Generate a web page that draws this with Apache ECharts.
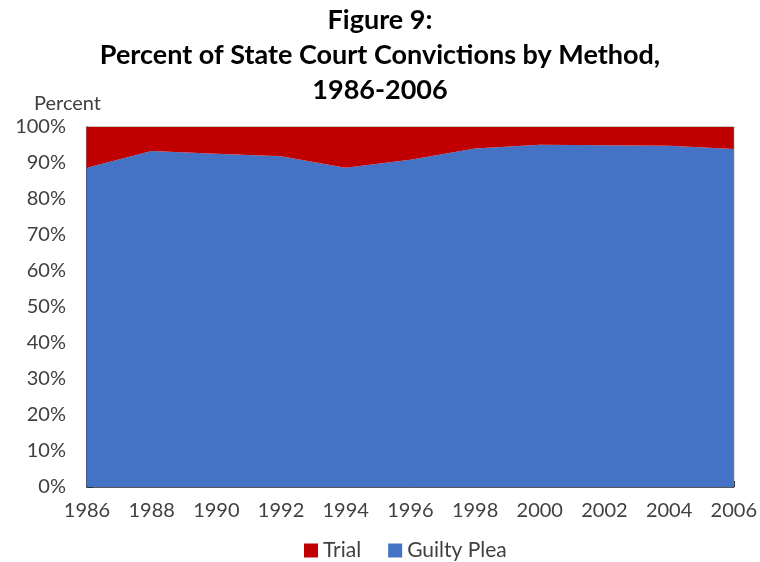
<!DOCTYPE html>
<html>
<head>
<meta charset="utf-8">
<script src="https://cdn.jsdelivr.net/npm/echarts@6/dist/echarts.min.js"></script>
<style>
  html, body { margin: 0; padding: 0; background: #fff; }
  #chart { width: 760px; height: 562px; }
</style>
</head>
<body>
<div id="chart"></div>
<script>
// data
var years = ['1986', '1988', '1990', '1992', '1994', '1996', '1998', '2000', '2002', '2004', '2006'];
var guiltyPlea = [88.7, 93.3, 92.6, 91.9, 88.7, 90.9, 94.0, 95.1, 94.9, 94.8, 93.9];
var trial = [11.3, 6.7, 7.4, 8.1, 11.3, 9.1, 6.0, 4.9, 5.1, 5.2, 6.1];
var yTicks = [0, 10, 20, 30, 40, 50, 60, 70, 80, 90, 100];

var fontFam = 'Lato, "Open Sans", sans-serif';
var textColor = '#404040';

var myChart = echarts.init(document.getElementById('chart'));
var option = {
    backgroundColor: '#ffffff',
    animation: false,
    title: {
        text: 'Figure 9:\nPercent of State Court Convictions by Method,\n1986-2006',
        left: 'center',
        top: -2,
        textStyle: {
            fontFamily: fontFam,
            fontWeight: 'bold',
            fontSize: 27,
            lineHeight: 35,
            color: '#000'
        }
    },
    legend: {
        top: 535,
        left: 299,
        itemWidth: 14,
        itemHeight: 14,
        itemGap: 27,
        icon: 'rect',
        textStyle: { fontFamily: fontFam, fontSize: 21, color: textColor },
        data: ['Trial', 'Guilty Plea']
    },
    grid: {
        left: 87,
        right: 25,
        top: 127,
        bottom: 75,
        show: true,
        borderColor: '#8c8c8c',
        borderWidth: 1
    },
    xAxis: {
        type: 'category',
        data: years,
        boundaryGap: false,
        axisLine: { lineStyle: { color: '#333', width: 1.5 } },
        axisTick: { inside: true, length: 6, lineStyle: { color: '#333' } },
        axisLabel: { fontFamily: fontFam, fontSize: 20, color: textColor, margin: 14 },
        splitLine: { show: false }
    },
    yAxis: {
        type: 'value',
        min: yTicks[0],
        max: yTicks[yTicks.length - 1],
        interval: 10,
        name: 'Percent',
        nameLocation: 'end',
        nameGap: 13,
        nameTextStyle: { fontFamily: fontFam, fontSize: 20, color: textColor, align: 'right', padding: [0, -14, 0, 0] },
        axisLine: { show: true, lineStyle: { color: '#333', width: 1.5 } },
        axisTick: { show: true, inside: true, length: 6, lineStyle: { color: '#333' } },
        axisLabel: { fontFamily: fontFam, fontSize: 20, color: textColor, margin: 21, formatter: '{value}%' },
        splitLine: { show: false }
    },
    series: [
        {
            name: 'Guilty Plea',
            type: 'line',
            stack: 'all',
            data: guiltyPlea,
            symbol: 'none',
            lineStyle: { width: 0 },
            itemStyle: { color: '#4472C4' },
            areaStyle: { color: '#4472C4', opacity: 1 }
        },
        {
            name: 'Trial',
            type: 'line',
            stack: 'all',
            data: trial,
            symbol: 'none',
            lineStyle: { width: 0 },
            itemStyle: { color: '#C00000' },
            areaStyle: { color: '#C00000', opacity: 1 }
        }
    ]
};
myChart.setOption(option);
</script>
</body>
</html>
